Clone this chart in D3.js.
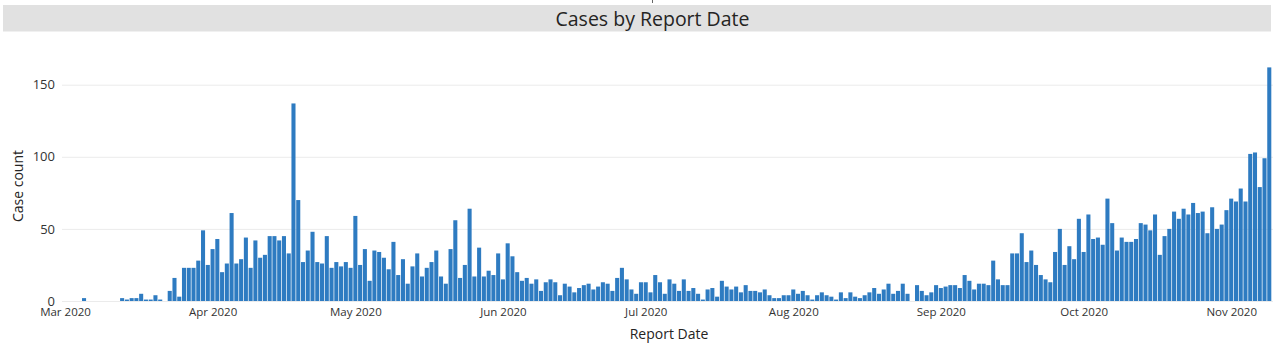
<!DOCTYPE html>
<html>
<head>
<meta charset="utf-8">
<script src="https://cdn.jsdelivr.net/npm/d3@7"></script>
<style>
  html, body { margin: 0; padding: 0; background: #fff; }
  svg { display: block; font-family: "Segoe UI", "Open Sans", "Noto Sans", sans-serif; }
</style>
</head>
<body>
<svg id="chart" width="1273" height="343"></svg>
<script>
// Daily reported cases, first report day onward
const startDate = "2020-03-05";
const caseCounts = [
  2, 0, 0, 0, 0, 0, 0, 0, 2, 1, 2, 2, 5, 1, 1, 4, 1, 0, 7, 16,
  3, 23, 23, 23, 28, 49, 25, 36, 43, 20, 26, 61, 26, 29, 44, 23, 42, 30, 32, 45,
  45, 42, 45, 33, 137, 70, 27, 35, 48, 27, 26, 45, 23, 27, 24, 27, 23, 59, 25, 36,
  14, 35, 34, 30, 22, 41, 18, 29, 12, 24, 33, 17, 23, 27, 35, 17, 12, 36, 56, 16,
  25, 64, 17, 37, 17, 21, 18, 33, 15, 40, 31, 20, 14, 16, 12, 15, 7, 13, 15, 13,
  4, 12, 10, 6, 9, 11, 12, 8, 10, 13, 12, 7, 16, 23, 15, 8, 5, 13, 13, 6,
  18, 13, 5, 15, 12, 7, 15, 7, 9, 5, 1, 8, 9, 3, 14, 10, 8, 10, 6, 11,
  7, 7, 6, 8, 4, 2, 2, 4, 4, 8, 5, 7, 4, 1, 4, 6, 4, 3, 1, 6,
  2, 6, 3, 2, 4, 6, 9, 5, 8, 12, 5, 7, 12, 5, 0, 11, 7, 4, 6, 11,
  9, 10, 11, 11, 9, 18, 14, 8, 12, 12, 11, 28, 15, 11, 11, 33, 33, 47, 27, 35,
  25, 18, 15, 13, 34, 50, 25, 38, 29, 57, 34, 60, 43, 44, 39, 71, 54, 35, 44, 41,
  41, 43, 54, 53, 49, 60, 32, 45, 50, 62, 57, 64, 60, 68, 61, 62, 47, 65, 50, 53,
  63, 71, 69, 78, 69, 102, 103, 79, 99, 162
];
const yTicks = [0, 50, 100, 150];
const monthTicks = ["2020-03-01", "2020-04-01", "2020-05-01", "2020-06-01", "2020-07-01",
                    "2020-08-01", "2020-09-01", "2020-10-01", "2020-11-01"];

const parse = d3.utcParse("%Y-%m-%d");
const first = parse(startDate);
const data = caseCounts.map((v, i) => ({ date: d3.utcDay.offset(first, i), value: v }));

const svg = d3.select("#chart");
const plotLeft = 62, plotRight = 1273, plotBottom = 301;

// Time scale: one month per labelled tick, bars centred on their day
const x = d3.scaleUtc()
  .domain([parse("2020-03-01"), parse("2020-11-01")])
  .range([65, 1231.2]);
const y = d3.scaleLinear()
  .domain([0, 150])
  .range([plotBottom, 84.7]);

const dayW = x(parse("2020-03-02")) - x(parse("2020-03-01"));

// Header band with the chart title
svg.append("line")
  .attr("x1", 652.5).attr("x2", 652.5).attr("y1", 0).attr("y2", 3)
  .attr("stroke", "#666").attr("stroke-width", 1);
svg.append("rect")
  .attr("x", 3).attr("y", 5).attr("width", 1268).attr("height", 26.5)
  .attr("fill", "#e1e1e1");
svg.append("text")
  .attr("x", 652.5).attr("y", 26.3)
  .attr("text-anchor", "middle")
  .attr("font-size", 19.5).attr("fill", "#252423")
  .text("Cases by Report Date");

// Horizontal gridlines and y tick labels
const yAxis = d3.axisLeft(y).tickValues(yTicks).tickSize(-(plotRight - plotLeft)).tickPadding(7);
const gy = svg.append("g").attr("transform", `translate(${plotLeft},0)`).call(yAxis);
gy.select(".domain").remove();
gy.selectAll(".tick line").attr("stroke", "#ebebeb").attr("stroke-width", 1);
gy.selectAll(".tick text")
  .attr("font-size", 13).attr("fill", "#333")
  .attr("font-family", "\"Segoe UI\", \"Open Sans\", sans-serif");

// Bars
svg.append("g")
  .selectAll("rect")
  .data(data.filter(d => d.value > 0))
  .join("rect")
  .attr("x", d => x(d.date) - dayW / 2 + 0.35)
  .attr("width", dayW - 0.7)
  .attr("y", d => y(d.value))
  .attr("height", d => y(0) - y(d.value))
  .attr("fill", "#2e7bc1");

// Month axis
const xAxis = d3.axisBottom(x)
  .tickValues(monthTicks.map(parse))
  .tickFormat(d3.utcFormat("%b %Y"))
  .tickSize(0).tickPadding(7);
const gx = svg.append("g").attr("transform", `translate(0,${plotBottom})`).call(xAxis);
gx.select(".domain").remove();
gx.selectAll(".tick text")
  .attr("font-size", 11.5).attr("fill", "#333")
  .attr("font-family", "\"Segoe UI\", \"Open Sans\", sans-serif");

// Axis titles
svg.append("text")
  .attr("x", 669).attr("y", 333)
  .attr("text-anchor", "middle").attr("dominant-baseline", "central")
  .attr("font-size", 14).attr("fill", "#252423")
  .text("Report Date");
svg.append("text")
  .attr("transform", "translate(17,186) rotate(-90)")
  .attr("text-anchor", "middle").attr("dominant-baseline", "central")
  .attr("font-size", 14).attr("fill", "#252423")
  .text("Case count");
</script>
</body>
</html>
